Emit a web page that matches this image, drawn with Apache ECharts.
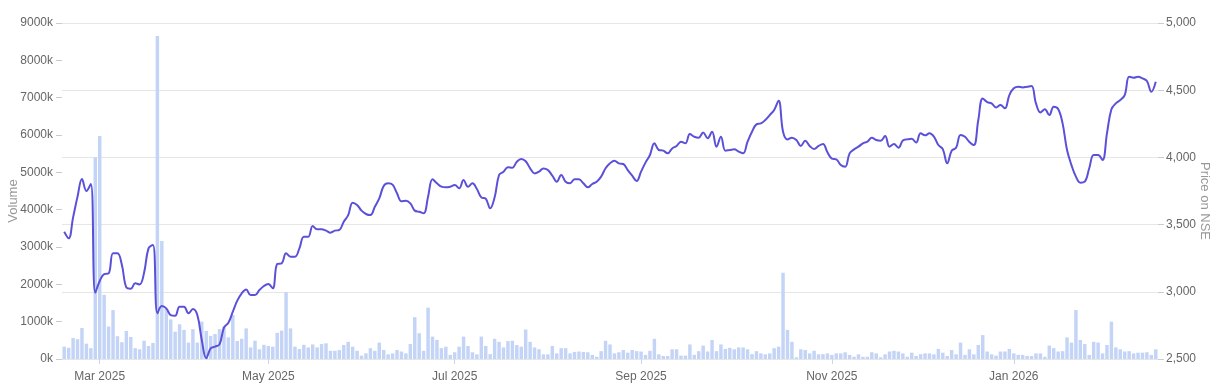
<!DOCTYPE html>
<html><head><meta charset="utf-8">
<script src="https://cdn.jsdelivr.net/npm/echarts@6/dist/echarts.min.js"></script>
<style>html,body{margin:0;padding:0;background:#fff}#c{width:1216px;height:386px}</style>
</head><body><div id="c"></div>
<script>
// ---- data ----
const startDate = '2025-02-18';
const holidays = ['2025-02-26','2025-03-14','2025-03-31','2025-04-10','2025-04-14','2025-04-18','2025-05-01',
  '2025-08-15','2025-08-27','2025-10-02','2025-10-22','2025-11-05','2025-12-25','2026-01-15','2026-01-26'];
const monthNames = ['Jan','Feb','Mar','Apr','May','Jun','Jul','Aug','Sep','Oct','Nov','Dec'];

// volume in thousands of shares
const volumeK = [
  330, 300, 560, 530, 830, 410, 290, 5400, 5970, 1720,
  870, 1310, 610, 450, 750, 590, 290, 260, 490, 350,
  430, 8650, 3160, 1340, 1060, 730, 930, 780, 440, 800,
  440, 1000, 750, 620, 670, 800, 870, 580, 1180, 480,
  540, 820, 310, 490, 260, 380, 350, 330, 700, 760,
  1790, 820, 330, 270, 380, 310, 390, 310, 400, 420,
  220,
  220, 240, 375, 460, 330, 220, 90, 150, 290, 220,
  440, 240, 125, 150, 240, 200, 150, 400, 1120, 690,
  220, 1375, 600, 510, 290, 330, 110, 180, 330, 600,
  350, 180, 125, 600, 350, 130, 540, 460, 310, 480,
  490, 375, 330, 790, 460, 310, 260, 125, 125, 350,
  150, 290, 290, 150, 190, 200, 190, 180, 110, 60,
  210, 490,
  390, 150, 180, 240, 170, 240, 210, 200, 110, 220,
  540, 125, 80, 80, 260, 260, 90, 90, 390, 110,
  210, 360, 200, 510, 210, 390, 270, 300, 260, 310,
  310, 260, 130, 210, 150, 125, 150, 290, 330, 2310,
  780, 460, 45, 260, 240, 150, 220, 125, 130, 150,
  110, 150, 150, 180, 110, 60, 125, 60, 60, 180,
  150, 45,
  125, 200, 220, 200, 150, 60, 170, 80, 130, 150,
  150, 125, 270, 170, 80, 240, 125, 440, 110, 260,
  125, 375, 640, 200, 125, 90, 200, 200, 270, 150,
  110, 110, 80, 80, 150, 150, 60, 360, 290, 200,
  210, 580, 440, 1310, 510, 400, 110, 460, 440, 150,
  375, 1000, 310, 260, 200, 210, 150, 170, 170, 180,
  110, 260
];

// closing price on NSE
const price = [
  3447, 3398, 3554, 3708, 3839, 3750, 3802, 2994, 3080, 3132,
  3137, 3286, 3286, 3199, 3033, 3023, 3063, 3055, 3142, 3323,
  3348, 2840, 2894, 2877, 2827, 2822, 2889, 2889, 2840, 2872,
  2827, 2641, 2505, 2579, 2592, 2609, 2733, 2770, 2852, 2934,
  2989, 3018, 2976, 2976, 3013, 3043, 3058, 3026, 3207, 3212,
  3286, 3261, 3261, 3323,
  3410, 3410, 3490, 3465, 3465, 3455,
  3440, 3455, 3460, 3522, 3571, 3663, 3646, 3604, 3579, 3571,
  3633, 3695, 3787, 3807, 3797, 3733, 3673, 3678, 3658, 3604,
  3596, 3584, 3708, 3837, 3807, 3782, 3777, 3782, 3794, 3770,
  3832, 3782, 3807, 3765, 3703, 3693, 3621, 3703, 3869, 3894,
  3926, 3923, 3968, 3988, 3971, 3919, 3881, 3894, 3918, 3906,
  3864, 3819, 3869, 3819, 3807, 3837, 3837, 3807, 3777, 3802,
  3819, 3857,
  3919, 3956, 3976, 3956, 3951, 3906, 3864, 3824,
  3894, 3961, 4018, 4105, 4055, 4050, 4030, 4067, 4085, 4117,
  4105, 4174, 4154, 4147, 4186, 4142, 4191, 4080, 4154, 4050,
  4055, 4060, 4043, 4030, 4117, 4191, 4246, 4253, 4278, 4315,
  4353, 4422, 4191, 4134, 4147, 4129, 4085, 4124, 4085, 4062,
  4085, 4100, 4038, 3991, 3986, 3943, 3931, 4030, 4060, 4080,
  4105, 4117, 4147, 4129, 4124, 4159, 4080, 4100, 4072,
  4125, 4134, 4139, 4110, 4179, 4164, 4179, 4154, 4092, 4062, 3956,
  4050, 4072, 4167, 4154, 4115, 4092, 4278, 4439, 4412, 4402,
  4372, 4390, 4365, 4464, 4514, 4526, 4521, 4526, 4531, 4402,
  4335, 4358, 4315, 4377, 4360, 4253, 4055, 3943, 3857, 3812,
  3820, 3919, 4018, 4018, 3981, 4179, 4358, 4402, 4427, 4464,
  4600, 4593, 4600, 4588, 4568, 4489, 4563
];

// ---- trading-day categories ----
function buildDates(n) {
  const out = [];
  const d = new Date(startDate + 'T00:00:00Z');
  const hol = new Set(holidays);
  while (out.length < n) {
    const wd = d.getUTCDay();
    const s = d.toISOString().slice(0, 10);
    if (wd !== 0 && wd !== 6 && !hol.has(s)) out.push(s);
    d.setUTCDate(d.getUTCDate() + 1);
  }
  return out;
}
const dates = buildDates(volumeK.length);
const labelIdx = new Set();
let prevMonth = null;
dates.forEach((s, i) => {
  const m = +s.slice(5, 7);
  if (m !== prevMonth) {
    if (prevMonth !== null && m % 2 === 1) labelIdx.add(i);
    prevMonth = m;
  }
});
const showLabel = (i) => labelIdx.has(i);

const chart = echarts.init(document.getElementById('c'), null, { renderer: 'canvas' });
const font = '"Liberation Sans", Arial, Helvetica, sans-serif';
chart.setOption({
  animation: false,
  backgroundColor: '#ffffff',
  textStyle: { fontFamily: font },
  grid: { left: 62, right: 58, top: 23, bottom: 27, containLabel: false, outerBoundsMode: 'none' },
  xAxis: {
    type: 'category',
    data: dates,
    boundaryGap: true,
    axisLine: { show: true, lineStyle: { color: '#e6e6e6', width: 1 } },
    axisTick: { show: true, interval: showLabel, alignWithLabel: true, length: 5, lineStyle: { color: '#ccd6eb' } },
    axisLabel: {
      interval: showLabel, margin: 12, color: '#666666', fontSize: 12, fontFamily: font,
      formatter: (v) => monthNames[+v.slice(5, 7) - 1] + ' ' + v.slice(0, 4)
    },
    splitLine: { show: false }
  },
  yAxis: [
    {
      type: 'value', position: 'left', min: 0, max: 9000, interval: 1000,
      name: 'Volume', nameLocation: 'middle', nameGap: 42, nameRotate: 90, nameMoveOverlap: false,
      nameTextStyle: { color: '#999999', fontSize: 13, fontFamily: font, padding: [0, 20, 0, 0] },
      axisLine: { show: false },
      axisTick: { show: true, length: 6, lineStyle: { color: '#cccccc' } },
      axisLabel: { color: '#666666', fontSize: 12, margin: 9, fontFamily: font, formatter: (v) => v + 'k' },
      splitLine: { show: false }
    },
    {
      type: 'value', position: 'right', min: 2500, max: 5000, interval: 500,
      name: 'Price on NSE', nameLocation: 'middle', nameGap: 40, nameRotate: -90, nameMoveOverlap: false,
      nameTextStyle: { color: '#999999', fontSize: 13, fontFamily: font, padding: [0, 0, 0, 20] },
      axisLine: { show: false },
      axisTick: { show: true, length: 6, lineStyle: { color: '#cccccc' } },
      axisLabel: { color: '#666666', fontSize: 12, margin: 8, fontFamily: font,
        formatter: (v) => v.toLocaleString('en-US') },
      splitLine: { show: true, lineStyle: { color: '#e6e6e6', width: 1 } }
    }
  ],
  series: [
    {
      name: 'Volume', type: 'bar', yAxisIndex: 0, data: volumeK,
      barCategoryGap: '22%',
      itemStyle: { color: '#c3d4f6' },
      z: 1
    },
    {
      name: 'Price', type: 'line', yAxisIndex: 1, data: price,
      smooth: 0.4, showSymbol: false, symbol: 'none',
      lineStyle: { color: '#5b50d8', width: 2 },
      z: 3
    }
  ]
});
</script>
</body></html>
